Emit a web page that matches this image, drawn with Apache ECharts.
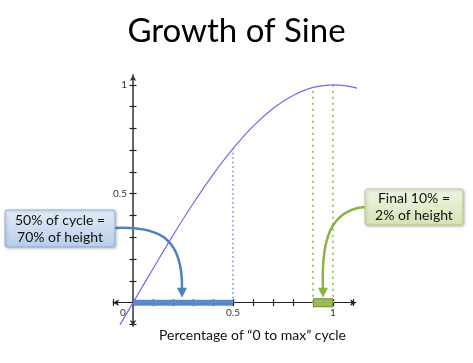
<!DOCTYPE html>
<html>
<head>
<meta charset="utf-8">
<script src="https://cdn.jsdelivr.net/npm/echarts@6/dist/echarts.min.js"></script>
<style>html,body{margin:0;padding:0;background:#fff}#c{width:473px;height:363px}</style>
</head>
<body>
<div id="c"></div>
<script>
// Data
var titleText = 'Growth of Sine';
var xAxisName = 'Percentage of \u201c0 to max\u201d cycle';
var curveX = [-0.065, 0, 0.1, 0.2, 0.3, 0.4, 0.5, 0.6, 0.7, 0.8, 0.9, 1.0, 1.06, 1.12];
var curveY = [-0.102, 0, 0.156, 0.309, 0.454, 0.588, 0.707, 0.809, 0.891, 0.951, 0.988, 1.0, 0.996, 0.985];
var tickValues = [-0.1, 0, 0.1, 0.2, 0.3, 0.4, 0.5, 0.6, 0.7, 0.8, 0.9, 1.0, 1.1];
var xLabelValues = [0, 0.5, 1];
var yLabelValues = [0.5, 1];
var halfX = [0, 0.5];          // first 50% of cycle
var halfHeight = 0.707;        // 70% of height
var finalX = [0.9, 1.0];       // final 10%
var finalHeights = [0.988, 1.0];
var callout1 = ['50% of cycle =', '70% of height'];
var callout2 = ['Final 10% =', '2% of height'];

var curveData = curveX.map(function (x, i) { return [x, curveY[i]]; });
var FONT = 'Lato, "Open Sans", sans-serif';

var chart = echarts.init(document.getElementById('c'), null, {renderer: 'canvas'});

function xAxisDef(inside, show) {
  return {
    type: 'value', min: -0.1, max: 1.115, position: 'bottom',
    axisLine: {show: show, onZero: true, symbol: ['arrow', 'arrow'], symbolSize: [5, 6],
      lineStyle: {color: '#222', width: 1}},
    axisTick: {show: true, inside: inside, length: 3.5, customValues: tickValues,
      lineStyle: {color: '#222', width: 1.2}},
    axisLabel: {show: show, customValues: xLabelValues, margin: -18, fontSize: 10, color: '#333', fontFamily: FONT,
      formatter: function (v) { return v === 0 ? '{z|0}' : String(v); },
      rich: {z: {fontSize: 10, color: '#333', fontFamily: FONT, padding: [0, 20, 0, 0]}}},
    splitLine: {show: false},
    name: show ? xAxisName : '', nameLocation: 'middle', nameGap: 2,
    nameTextStyle: {fontSize: 14, color: '#111', fontFamily: FONT, padding: [0, 0, 0, 36]}
  };
}
function yAxisDef(inside, show) {
  return {
    type: 'value', min: -0.107, max: 1.045, position: 'left',
    axisLine: {show: show, onZero: true, symbol: ['arrow', 'arrow'], symbolSize: [5, 6],
      lineStyle: {color: '#333', width: 1.5}},
    axisTick: {show: true, inside: inside, length: 3.5, customValues: tickValues.filter(function (v) { return v >= -0.1 && v <= 1; }),
      lineStyle: {color: '#222', width: 1.2}},
    axisLabel: {show: show, customValues: yLabelValues, margin: -14, fontSize: 10, color: '#333', fontFamily: FONT},
    splitLine: {show: false}
  };
}

var option = {
  backgroundColor: '#fff',
  animation: false,
  title: {text: titleText, left: 'center', top: 10,
    textStyle: {fontSize: 33, fontWeight: 'normal', color: '#000', fontFamily: FONT}},
  grid: {left: 113, top: 75, width: 243, height: 251, containLabel: false, outerBoundsMode: 'none'},
  xAxis: [xAxisDef(false, true), xAxisDef(true, false)],
  yAxis: [yAxisDef(false, true), yAxisDef(true, false)],
  series: [
    {type: 'line', data: [[halfX[0], 0], [halfX[1], 0]], symbol: 'none', silent: true,
      lineStyle: {color: '#5a8ac6', width: 6, cap: 'butt'}, z: 3},
    {type: 'line', data: [[finalX[0], 0], [finalX[1], 0]], symbol: 'none', silent: true,
      lineStyle: {color: '#6d8a36', width: 9, cap: 'butt'}, z: 3},
    {type: 'line', data: [[finalX[0] + 0.004, 0], [finalX[1] - 0.004, 0]], symbol: 'none', silent: true,
      lineStyle: {color: '#9bbb59', width: 7, cap: 'butt'}, z: 4},
    {type: 'line', data: [[halfX[1], 0], [halfX[1], halfHeight]], symbol: 'none', silent: true,
      lineStyle: {color: '#5b8fd0', width: 1.5, type: [1.5, 3]}, z: 2},
    {type: 'line', data: [[finalX[0], 0], [finalX[0], finalHeights[0]]], symbol: 'none', silent: true,
      lineStyle: {color: '#a9c46a', width: 2, type: [2, 4]}, z: 2},
    {type: 'line', data: [[finalX[1], 0], [finalX[1], finalHeights[1]]], symbol: 'none', silent: true,
      lineStyle: {color: '#a9c46a', width: 2, type: [2, 4]}, z: 2},
    {type: 'line', data: curveData, smooth: 0.4, symbol: 'none', silent: true,
      lineStyle: {color: '#6b6bf2', width: 1.2}, z: 5}
  ]
};
chart.setOption(option);

// Annotations anchored in data coordinates
function px(x, y) { return chart.convertToPixel({gridIndex: 0}, [x, y]); }
var a1 = px(0.25, 0);   // arrow 1 target
var a2 = px(0.955, 0);  // arrow 2 target

function box(x, y, w, h, lines, c1, c2, border) {
  return [
    {type: 'rect', shape: {x: x, y: y, width: w, height: h, r: 2}, z: 20,
      style: {fill: new echarts.graphic.LinearGradient(0, 0, 0, 1, [{offset: 0, color: c1}, {offset: 1, color: c2}]),
        stroke: border, lineWidth: 1, shadowBlur: 3, shadowColor: 'rgba(0,0,0,0.25)', shadowOffsetX: 1, shadowOffsetY: 1}},
    {type: 'text', x: x + w / 2, y: y + h / 2, z: 21,
      style: {text: lines.join('\n'), align: 'center', verticalAlign: 'middle', fill: '#111',
        font: '14px ' + FONT, lineHeight: 17}}
  ];
}
function arrow(x1, y1, cp1, cp2, tip, color) {
  return [
    {type: 'bezierCurve', z: 19, shape: {x1: x1, y1: y1, cpx1: cp1[0], cpy1: cp1[1], cpx2: cp2[0], cpy2: cp2[1], x2: tip[0], y2: tip[1] - 8},
      style: {stroke: color, lineWidth: 2.5, fill: null}},
    {type: 'polygon', z: 19, shape: {points: [[tip[0] - 5, tip[1] - 10], [tip[0] + 5, tip[1] - 10], [tip[0], tip[1]]]},
      style: {fill: color}}
  ];
}

var graphics = [].concat(
  box(5, 210, 110, 37, callout1, '#e3ecf7', '#b8cde9', '#8eb0dd'),
  arrow(115, 228, [162, 226], [a1[0], 240], [a1[0] - 1, a1[1] - 5], '#4f81bd'),
  box(365, 189, 98, 36, callout2, '#eff5e2', '#d4e3b6', '#b9cf8a'),
  arrow(365, 207, [330, 210], [a2[0] - 3, 240], [a2[0] - 1, a2[1] - 5], '#8db347')
);
chart.setOption({graphic: graphics});
</script>
</body>
</html>
